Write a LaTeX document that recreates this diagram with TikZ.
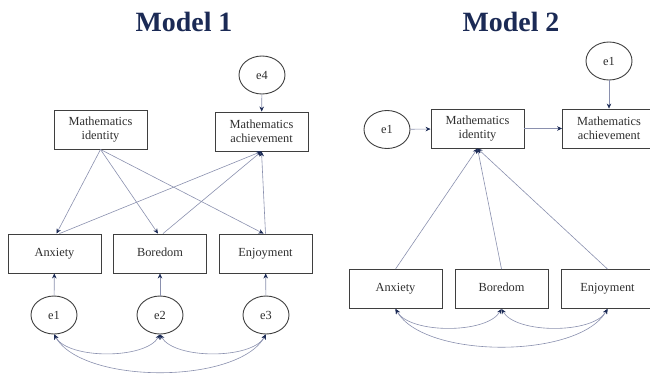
\documentclass[tikz,border=0pt]{standalone}
\usepackage{fontspec}
\setmainfont{Liberation Serif}
\usetikzlibrary{shapes.geometric,arrows.meta}
\definecolor{navy}{HTML}{1B2A55}
\definecolor{edge}{HTML}{8A90AE}
\definecolor{frame}{HTML}{3F3F3F}
\definecolor{txt}{HTML}{2E2E2E}

\begin{document}
\begin{tikzpicture}[x=1bp,y=1bp,
box/.style={rectangle,draw=frame,line width=0.9bp,minimum width=93bp,minimum height=39bp,inner sep=1bp,align=center,text=txt,font=\fontsize{12.4}{14.5}\selectfont},
word/.style={box,text height=8.6bp,text depth=2.8bp},
err/.style={ellipse,draw=frame,line width=0.9bp,minimum width=46bp,minimum height=38bp,inner sep=0pt,text=txt,font=\fontsize{12.4}{14.5}\selectfont},
link/.style={draw=edge,line width=0.6bp,-{Stealth[length=5bp,width=4.5bp,navy]}},
cov/.style={draw=edge,line width=0.6bp,{Stealth[length=5bp,width=4.5bp,navy]}-{Stealth[length=5bp,width=4.5bp,navy]},out=-60,in=-120,looseness=0.7},
heading/.style={font=\bfseries\fontsize{28}{30}\selectfont,text=navy}]
\useasboundingbox (0,0) rectangle (650,-374);

\node[heading] at (184,-22) (t1) {Model 1};
\node[err] at (262,-75) (e4) {e4};
\node[box] at (100.5,-129.5) (mi1) {Mathematics\\identity};
\node[box] at (261.5,-131.5) (ma1) {Mathematics\\achievement};
\node[word] at (54.5,-253.5) (anx1) {Anxiety};
\node[word] at (160,-253.5) (bor1) {Boredom};
\node[word] at (265.5,-253.5) (enj1) {Enjoyment};
\node[err] at (54,-315) (e1) {e1};
\node[err] at (160,-315) (e2) {e2};
\node[err] at (266,-315) (e3) {e3};

\draw[link] (e4) -- (ma1);
\draw[link] (mi1.south) -- ([xshift=2bp]anx1.north);
\draw[link] (mi1.south) -- ([xshift=-2bp]bor1.north);
\draw[link] (mi1.south) -- ([xshift=-2bp]enj1.north);
\draw[link] ([xshift=5bp]anx1.north) -- (ma1.south);
\draw[link] ([xshift=3bp]bor1.north) -- (ma1.south);
\draw[link] (enj1.north) -- (ma1.south);
\draw[link] (e1) -- (anx1);
\draw[link] (e2) -- (bor1);
\draw[link] (e3) -- (enj1);
\draw[cov] (e1.south) to (e2.south);
\draw[cov] (e2.south) to (e3.south);
\draw[cov] (e1.south) to (e3.south);

\node[heading] at (511,-22) (t2) {Model 2};
\node[err] at (609,-61) (f1) {e1};
\node[err] at (387,-129.5) (g1) {e1};
\node[box] at (477.5,-128.5) (mi2) {Mathematics\\identity};
\node[box] at (609,-128.5) (ma2) {Mathematics\\achievement};
\node[word] at (395.5,-289) (anx2) {Anxiety};
\node[word] at (501.5,-289) (bor2) {Boredom};
\node[word] at (607.5,-289) (enj2) {Enjoyment};

\draw[link] (f1) -- (ma2);
\draw[link] (g1) -- (mi2);
\draw[link] (mi2) -- (ma2);
\draw[link] (anx2.north) -- (mi2.south);
\draw[link] (bor2.north) -- (mi2.south);
\draw[link] (enj2.north) -- (mi2.south);
\draw[cov] (anx2.south) to (bor2.south);
\draw[cov] (bor2.south) to (enj2.south);
\draw[cov] (anx2.south) to (enj2.south);
\end{tikzpicture}
\end{document}
